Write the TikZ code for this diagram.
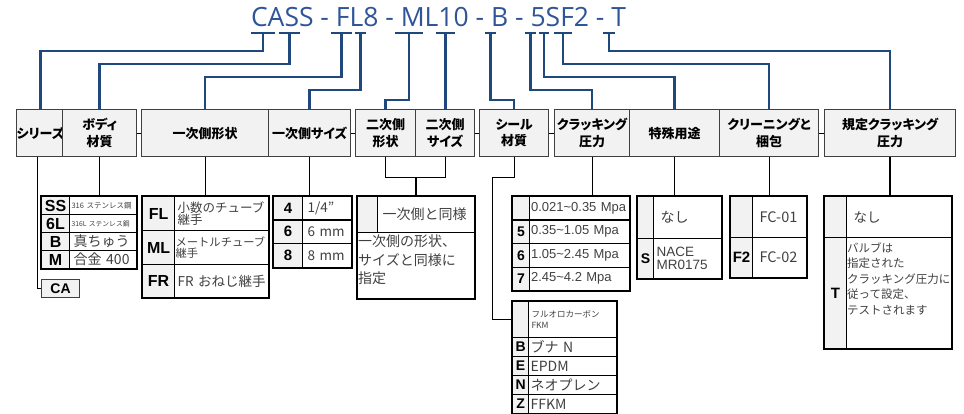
\documentclass[tikz,border=0pt]{standalone}
\usepackage{fontspec}
\setmainfont{Noto Sans CJK JP}
\newfontfamily\headfont{Noto Sans CJK JP}[RawFeature=+palt]
\newfontfamily\latinfont{Liberation Sans}
\newfontfamily\titlefont{Open Sans}
\usepackage{tikz}
\usepackage{xcolor}
\usetikzlibrary{positioning}
\definecolor{titleblue}{RGB}{47,85,151}
\definecolor{leadblue}{RGB}{31,73,125}
\definecolor{cellgray}{RGB}{242,242,242}
\definecolor{edgegray}{RGB}{64,64,64}
\tikzset{%
	title/.style = {text=titleblue, font=\titlefont\fontsize{26.5}{26.5}\selectfont, inner sep=0pt},
	lead/.style  = {draw=leadblue, line width=2.4pt},
	head/.style  = {draw=edgegray, fill=cellgray, line width=1.3pt, inner sep=0pt, anchor=north west, minimum height=47pt, align=center, font=\headfont\bfseries\fontsize{13}{16.5}\selectfont},
	code/.style  = {draw=black, fill=cellgray, line width=1.1pt, inner sep=0pt, anchor=north west, font=\latinfont\bfseries\fontsize{#1}{#1}\selectfont},
	code/.default = 14,
	value/.style = {draw=black, line width=1.1pt, inner xsep=4pt, inner ysep=0pt, anchor=north west, align=left, text=black!75, font=\fontsize{#1}{#1}\selectfont},
	value/.default = 13,
	note/.style  = {inner sep=0pt, anchor=north west, align=left, text=black!75},
	frame/.style = {draw=black, line width=1.8pt},
	link/.style  = {draw=black, line width=1.2pt},
}

\begin{document}
\begin{tikzpicture}[x=1pt,y=-1pt]
	\useasboundingbox (0,0) rectangle (964,414);
	% part number
	\node[title, anchor=base] (partno) at (438.5,27) {CASS - FL8 - ML10 - B - 5SF2 - T};
	\foreach \n/\x/\w in {CA/263/12, SS/289.5/10.5, FL/341.5/10.5, E8/360.5/5.5, ML/409/14, T10/445.5/9.5, B/490.5/5.5, P5/530.5/5.5, S/544/5, F2/563/9, T/609/6} {
		\coordinate (u\n) at (\x,33);
		\draw[lead] ([xshift=-\w pt]u\n) -- ([xshift=\w pt]u\n);
	}
	
	% header row
	\node[head, minimum width=46pt] (series) at (16,109) {シリーズ};
	\node[head, minimum width=74pt] (body) at (62,109) {ボディ\\材質};
	\node[head, minimum width=127pt] (shape1) at (141,109) {一次側形状};
	\node[head, minimum width=82pt] (size1) at (268,109) {一次側サイズ};
	\node[head, minimum width=60pt] (shape2) at (355,109) {二次側\\形状};
	\node[head, minimum width=59pt] (size2) at (415,109) {二次側\\サイズ};
	\node[head, minimum width=69pt] (seal) at (479,109) {シール\\材質};
	\node[head, minimum width=75pt] (crack) at (554,109) {クラッキング\\圧力};
	\node[head, minimum width=90pt] (special) at (629,109) {特殊用途};
	\node[head, minimum width=99pt] (clean) at (719,109) {クリーニングと\\梱包};
	\node[head, minimum width=131pt] (spec) at (824,109) {規定クラッキング\\圧力};
	\draw[link] (body.east) -- (shape1.west);
	\draw[link] (size1.east) -- (shape2.west);
	\draw[link] (size2.east) -- (seal.west);
	\draw[link] (seal.east) -- (crack.west);
	\draw[link] (clean.east) -- (spec.west);
	
	% leads from the part number
	\draw[lead] (uCA) -- ++(0,18) -| (series.north);
	\draw[lead] (uSS) -- ++(0,31) -| (body.north);
	\draw[lead] (uFL) -- ++(0,44) -| (shape1.north);
	\draw[lead] (uE8) -- ++(0,57) -| (size1.north);
	\draw[lead] (uML) -- ++(0,67) -| (shape2.north);
	\draw[lead] (uT10) -- (uT10 |- size2.north);
	\draw[lead] (uB) -- ++(0,67) -| (seal.north);
	\draw[lead] (uP5) -- ++(0,57) -| (crack.north);
	\draw[lead] (uS) -- ++(0,44) -| (special.north);
	\draw[lead] (uF2) -- ++(0,31) -| (clean.north);
	\draw[lead] (uT) -- ++(0,18) -| (spec.north);
	
	% series
	\node[code=14, draw=edgegray, minimum width=38pt, minimum height=18pt] (ca) at (41,279) {CA};
	
	% body material
	\node[code=16, minimum width=28pt, minimum height=18pt] (ss) at (41,196) {SS};
	\node[value=7.5, inner xsep=2pt, text width=63pt, minimum height=18pt] (ssv) at (69,196) {316~ステンレス鋼};
	\node[code=16, minimum width=28pt, minimum height=18pt] (sl) at (41,214) {6L};
	\node[value=6.8, inner xsep=2pt, text width=63pt, minimum height=18pt] (slv) at (69,214) {316L~ステンレス鋼};
	\node[code=16, minimum width=28pt, minimum height=18pt] (br) at (41,232) {B};
	\node[value=14, text width=59pt, minimum height=18pt] (brv) at (69,232) {真ちゅう};
	\node[code=16, minimum width=28pt, minimum height=18pt] (mo) at (41,250) {M};
	\node[value=14, text width=59pt, minimum height=18pt] (mov) at (69,250) {合金~400};
	\draw[frame] (ss.north west) rectangle (mov.south east);
	
	% primary end shape
	\node[code=16, minimum width=32pt, minimum height=34pt] (fl) at (142,196) {FL};
	\node[value=12.5, inner xsep=3pt, text width=88pt, minimum height=34pt] (flv) at (174,196) {小数のチューブ\\継手};
	\node[code=16, minimum width=32pt, minimum height=34pt] (ml) at (142,230) {ML};
	\node[value=11.3, inner xsep=1pt, text width=92pt, minimum height=34pt] (mlv) at (174,230) {メートルチューブ\\継手};
	\node[code=16, minimum width=32pt, minimum height=33pt] (fr) at (142,264) {FR};
	\node[value=13.5, inner xsep=3pt, text width=88pt, minimum height=33pt] (frv) at (174,264) {FR~おねじ継手};
	\draw[frame] (fl.north west) rectangle (frv.south east);
	
	% primary end size
	\node[code=15, minimum width=29pt, minimum height=23.5pt] (s4) at (273,196) {4};
	\node[value=13.5, inner xsep=5pt, text width=39pt, minimum height=23.5pt] (s4v) at (302,196) {1/4"};
	\node[code=15, minimum width=29pt, minimum height=23.5pt] (s6) at (273,219.5) {6};
	\node[value=13.5, inner xsep=5pt, text width=39pt, minimum height=23.5pt] (s6v) at (302,219.5) {6 mm};
	\node[code=15, minimum width=29pt, minimum height=24pt] (s8) at (273,243) {8};
	\node[value=13.5, inner xsep=5pt, text width=39pt, minimum height=24pt] (s8v) at (302,243) {8 mm};
	\draw[frame] (s4.north west) rectangle (s8v.south east);
	
	% secondary end
	\node[code, minimum width=20pt, minimum height=36pt] (same) at (357,196) {};
	\node[value=14, inner xsep=5pt, text width=87pt, minimum height=36pt] (samev) at (377,196) {一次側と同様};
	\node[value, text width=109pt, minimum height=66pt] (samel) at (357,232) {};
	\node[note, font=\fontsize{14}{18.5}\selectfont] (samet) at ([xshift=1pt,yshift=-3pt]samel.north west) {一次側の形状、\\サイズと同様に\\指定};
	\draw[frame] (same.north west) rectangle (samel.south east);
	
	% seal material
	\node[code, minimum width=16pt, minimum height=36pt] (fkm) at (512,301) {};
	\node[value, inner xsep=3pt, text width=82pt, minimum height=36pt, font=\fontsize{8.5}{11}\selectfont] (fkmv) at (528,301) {フルオロカーボン\\FKM};
	\node[code=14, minimum width=16pt, minimum height=19pt] (bu) at (512,337) {B};
	\node[value=14, inner xsep=2pt, text width=84pt, minimum height=19pt] (buv) at (528,337) {ブナ N};
	\node[code=14, minimum width=16pt, minimum height=19pt] (ep) at (512,356) {E};
	\node[value=14, inner xsep=2pt, text width=84pt, minimum height=19pt] (epv) at (528,356) {EPDM};
	\node[code=14, minimum width=16pt, minimum height=19pt] (ne) at (512,375) {N};
	\node[value=14, inner xsep=2pt, text width=84pt, minimum height=19pt] (nev) at (528,375) {ネオプレン};
	\node[code=14, minimum width=16pt, minimum height=19pt] (ff) at (512,394) {Z};
	\node[value=14, inner xsep=2pt, text width=84pt, minimum height=19pt] (ffv) at (528,394) {FFKM};
	\draw[frame] (fkm.north west) rectangle (ffv.south east);
	
	% cracking pressure
	\node[code=14, minimum width=17pt, minimum height=23.5pt] (p0) at (512,196) {};
	\node[value, inner xsep=1.5pt, text width=97pt, minimum height=23.5pt, font=\latinfont\fontsize{13}{13}\selectfont] (p0v) at (529,196) {0.021\textasciitilde0.35 Mpa};
	\node[code=14, minimum width=17pt, minimum height=23.5pt] (p5) at (512,219.5) {5};
	\node[value, inner xsep=1.5pt, text width=97pt, minimum height=23.5pt, font=\latinfont\fontsize{13}{13}\selectfont] (p5v) at (529,219.5) {0.35\textasciitilde1.05 Mpa};
	\node[code=14, minimum width=17pt, minimum height=23.5pt] (p6) at (512,243) {6};
	\node[value, inner xsep=1.5pt, text width=97pt, minimum height=23.5pt, font=\latinfont\fontsize{13}{13}\selectfont] (p6v) at (529,243) {1.05\textasciitilde2.45 Mpa};
	\node[code=14, minimum width=17pt, minimum height=23.5pt] (p7) at (512,266.5) {7};
	\node[value, inner xsep=1.5pt, text width=97pt, minimum height=23.5pt, font=\latinfont\fontsize{13}{13}\selectfont] (p7v) at (529,266.5) {2.45\textasciitilde4.2 Mpa};
	\draw[frame] (p0.north west) rectangle (p7v.south east);
	
	% special application
	\node[code, minimum width=16pt, minimum height=42pt] (sp0) at (637,196) {};
	\node[value=14, inner xsep=7pt, text width=54pt, minimum height=42pt] (sp0v) at (653,196) {なし};
	\node[code=14, minimum width=16pt, minimum height=40pt] (sp1) at (637,238) {S};
	\node[value, inner xsep=3pt, text width=62pt, minimum height=40pt, font=\latinfont\fontsize{13.5}{13.5}\selectfont] (sp1v) at (653,238) {NACE\\MR0175};
	\draw[frame] (sp0.north west) rectangle (sp1v.south east);
	
	% cleaning and packaging
	\node[code, minimum width=22pt, minimum height=41pt] (cl0) at (730,196) {};
	\node[value=14.5, inner xsep=7pt, text width=40pt, minimum height=41pt] (cl0v) at (752,196) {FC-01};
	\node[code=15, minimum width=22pt, minimum height=40pt] (cl1) at (730,237) {F2};
	\node[value=14.5, inner xsep=7pt, text width=40pt, minimum height=40pt] (cl1v) at (752,237) {FC-02};
	\draw[frame] (cl0.north west) rectangle (cl1v.south east);
	
	% set cracking pressure
	\node[code, minimum width=22pt, minimum height=41pt] (tc0) at (824,196) {};
	\node[value=13.5, inner xsep=7pt, text width=91pt, minimum height=41pt] (tc0v) at (846,196) {なし};
	\node[code=15, minimum width=22pt, minimum height=111pt] (tc1) at (824,237) {T};
	\node[value, inner xsep=7pt, text width=91pt, minimum height=111pt] (tc1v) at (846,237) {};
	\node[note, font=\fontsize{11.5}{15.5}\selectfont] (tnote) at ([xshift=1pt,yshift=-5pt]tc1v.north west) {バルブは\\指定された\\クラッキング圧力に\\従って設定、\\テストされます};
	\draw[frame] (tc0.north west) rectangle (tc1v.south east);
	
	% leads down to the tables
	\draw[link] ([xshift=-3pt]series.south) |- (ca.west);
	\draw[link] (body.south) -- (body.south |- ssv.north);
	\draw[link] (shape1.south) -- (shape1.south |- flv.north);
	\draw[link] (size1.south) -- (size1.south |- s4v.north);
	\draw[link] (shape2.south) -- ++(0,20) coordinate (join2) -| (size2.south);
	\draw[link] (samel.north |- samev.north) -- (samel.north |- join2);
	\draw[link] (seal.south) -- ++(0,20) -- ++(-22,0) |- (fkm.west);
	\draw[link] (crack.south) -- (crack.south |- p0v.north);
	\draw[link] (special.south) -- (special.south |- sp0v.north);
	\draw[link] (clean.south) -- (clean.south |- cl0v.north);
	\draw[link, line width=2pt] (spec.south) -- (spec.south |- tc0v.north);
\end{tikzpicture}
\end{document}
